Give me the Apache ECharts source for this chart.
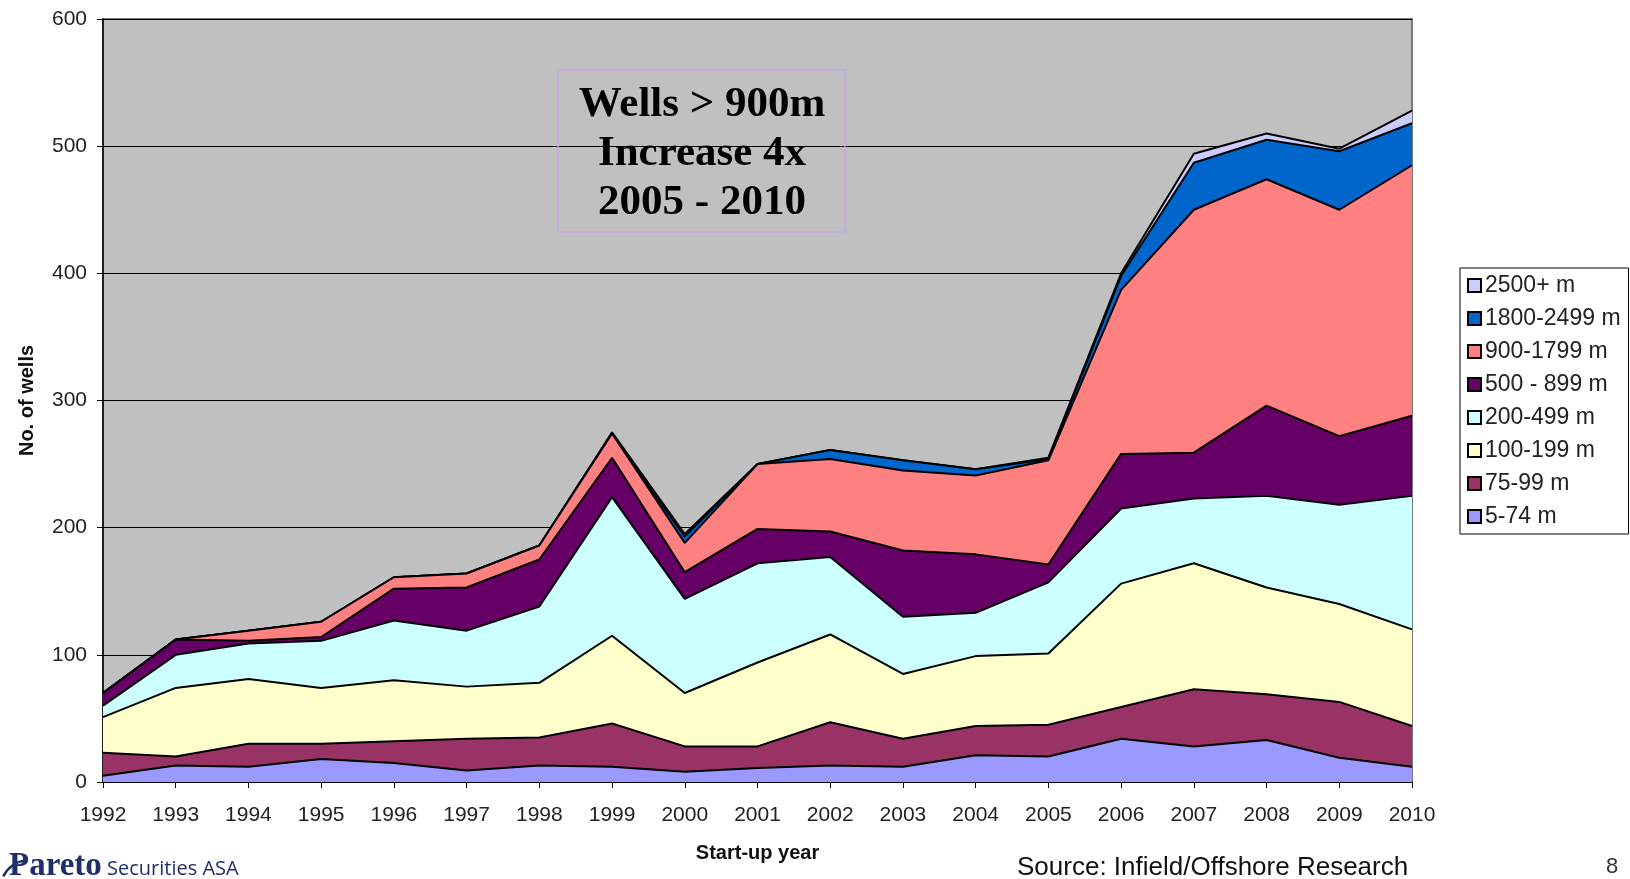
<!DOCTYPE html>
<html>
<head>
<meta charset="utf-8">
<title>Wells by water depth</title>
<script src="https://cdn.jsdelivr.net/npm/echarts@6.0.0/dist/echarts.min.js"></script>
<style>
    html, body { margin: 0; padding: 0; background: #ffffff; }
    #chart { width: 1630px; height: 879px; }
</style>
</head>
<body>
<div id="chart"></div>
<script>
// start-up years on the x axis
var years = ['1992', '1993', '1994', '1995', '1996', '1997', '1998', '1999', '2000', '2001',
             '2002', '2003', '2004', '2005', '2006', '2007', '2008', '2009', '2010'];

// wells per depth band
var wells_5_74      = [5, 13, 12, 18, 15, 9, 13, 12, 8, 11, 13, 12, 21, 20, 34, 28, 33, 19, 12];
var wells_75_99     = [18, 7, 18, 12, 17, 25, 22, 34, 20, 17, 34, 22, 23, 25, 25, 45, 36, 44, 32];
var wells_100_199   = [28, 54, 51, 44, 48, 41, 43, 69, 42, 66, 69, 51, 55, 56, 97, 99, 84, 77, 76];
var wells_200_499   = [9, 26, 28, 37, 47, 44, 60, 109, 74, 78, 61, 45, 34, 56, 59, 51, 72, 78, 105];
var wells_500_899   = [10, 12, 2, 3, 25, 34, 37, 31, 21, 27, 20, 52, 46, 14, 43, 36, 71, 54, 63];
var wells_900_1799  = [0, 0, 8, 12, 9, 11, 11, 19, 23, 51, 57, 63, 62, 82, 129, 191, 178, 178, 197];
var wells_1800_2499 = [0, 0, 0, 0, 0, 0, 0, 0, 5, 0, 7, 8, 5, 1, 11, 37, 31, 46, 33];
var wells_2500_plus = [0, 0, 0, 0, 0, 0, 0, 1, 2, 0, 0, 0, 0, 1, 2, 7, 5, 2, 10];

var yTicks = [0, 100, 200, 300, 400, 500, 600];

window.onload = function(){
    var e_chart = echarts.init(document.getElementById('chart'));

    var bands = [
        { name: '5-74 m',      data: wells_5_74,      color: '#9999FF' },
        { name: '75-99 m',     data: wells_75_99,     color: '#993366' },
        { name: '100-199 m',   data: wells_100_199,   color: '#FFFFCC' },
        { name: '200-499 m',   data: wells_200_499,   color: '#CCFFFF' },
        { name: '500 - 899 m', data: wells_500_899,   color: '#660066' },
        { name: '900-1799 m',  data: wells_900_1799,  color: '#FF8080' },
        { name: '1800-2499 m', data: wells_1800_2499, color: '#0066CC' },
        { name: '2500+ m',     data: wells_2500_plus, color: '#CCCCFF' }
    ];

    var series = [];
    for (var i = 0; i < bands.length; i++) {
        series.push({
            name: bands[i].name,
            type: 'line',
            stack: 'wells',
            data: bands[i].data,
            symbol: 'none',
            color: bands[i].color,
            lineStyle: { color: '#000000', width: 2 },
            areaStyle: { color: bands[i].color, opacity: 1 },
            itemStyle: { color: bands[i].color },
            /* lower bands on top so each outline isn't half hidden by the next area */
            z: 20 - i
        });
    }

    // legend lists the deepest band first
    var legendNames = bands.map(function (b) { return b.name; }).reverse();

    var option = {
        backgroundColor: '#ffffff',
        animation: false,
        grid: {
            left: 103,
            right: 218,
            top: 19,
            bottom: 97,
            show: true,
            backgroundColor: '#C0C0C0',
            borderColor: '#7a7a7a',
            borderWidth: 2
        },
        legend: {
            orient: 'vertical',
            left: 1460,
            top: 268,
            data: legendNames,
            icon: 'rect',
            itemWidth: 13,
            itemHeight: 13,
            itemGap: 10,
            padding: [6, 8, 6, 7],
            backgroundColor: '#ffffff',
            borderColor: '#000000',
            borderWidth: 1,
            itemStyle: { borderColor: '#000000', borderWidth: 2 },
            textStyle: { fontFamily: 'Liberation Sans', fontSize: 23, color: '#222222', padding: [0, 0, 0, -1] }
        },
        xAxis: {
            type: 'category',
            data: years,
            boundaryGap: false,
            name: 'Start-up year',
            nameLocation: 'middle',
            nameGap: 61,
            nameTextStyle: { fontFamily: 'Liberation Sans', fontWeight: 'bold', fontSize: 20, color: '#111111' },
            axisLine: { lineStyle: { color: '#000000', width: 1.5 } },
            axisTick: { show: true, length: 6, alignWithLabel: true, lineStyle: { color: '#000000' } },
            axisLabel: { fontFamily: 'Liberation Sans', fontSize: 21, color: '#222222', margin: 23, interval: 0 },
            splitLine: { show: false }
        },
        yAxis: {
            type: 'value',
            min: yTicks[0],
            max: yTicks[yTicks.length - 1],
            interval: 100,
            name: 'No. of wells',
            nameLocation: 'middle',
            nameGap: 66,
            nameTextStyle: { fontFamily: 'Liberation Sans', fontWeight: 'bold', fontSize: 20, color: '#111111' },
            axisLine: { show: true, lineStyle: { color: '#000000', width: 1.5 } },
            axisTick: { show: true, length: 6, lineStyle: { color: '#000000' } },
            axisLabel: { fontFamily: 'Liberation Sans', fontSize: 21, color: '#222222', margin: 16 },
            splitLine: { show: true, lineStyle: { color: '#000000', width: 1.2 } }
        },
        graphic: [
            // annotation box
            {
                type: 'rect',
                shape: { x: 558, y: 70, width: 287, height: 162 },
                style: { fill: 'none', stroke: '#C2A8EE', lineWidth: 1.5 },
                z: 100
            },
            {
                type: 'text',
                x: 702,
                y: 154,
                style: {
                    text: 'Wells > 900m\nIncrease 4x\n2005 - 2010',
                    font: 'bold 43px "Liberation Serif"',
                    lineHeight: 49,
                    fill: '#000000',
                    align: 'center',
                    verticalAlign: 'middle'
                },
                z: 101
            },
            // footer
            {
                type: 'arc',
                shape: { cx: 30, cy: 890, r: 30, startAngle: Math.PI * 1.15, endAngle: Math.PI * 1.45 },
                style: { stroke: '#1F2F6E', lineWidth: 2.5, fill: 'none' }
            },
            {
                type: 'text',
                x: 9,
                y: 866,
                style: { text: 'Pareto', font: 'bold 33px "Liberation Serif"', fill: '#1F2F6E', verticalAlign: 'middle' }
            },
            {
                type: 'text',
                x: 107,
                y: 869,
                style: { text: 'Securities ASA', font: '20px "Open Sans"', fill: '#1F2F6E', verticalAlign: 'middle' }
            },
            {
                type: 'text',
                x: 1017,
                y: 868,
                style: { text: 'Source: Infield/Offshore Research', font: '26px "Liberation Sans"', fill: '#111111', verticalAlign: 'middle' }
            },
            {
                type: 'text',
                x: 1606,
                y: 867,
                style: { text: '8', font: '22px "Liberation Sans"', fill: '#333333', verticalAlign: 'middle' }
            }
        ],
        series: series
    };
    e_chart.setOption(option);
};
</script>
</body>
</html>
